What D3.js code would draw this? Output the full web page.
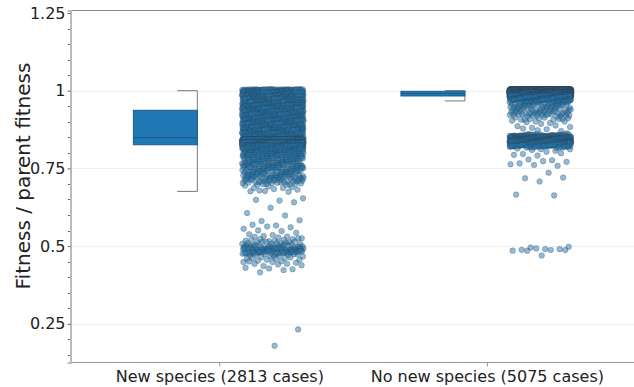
<!DOCTYPE html>
<html>
<head>
<meta charset="utf-8">
<script src="https://cdn.jsdelivr.net/npm/d3@7"></script>
<style>
  body { margin: 0; background: #fff; }
  text { font-family: "DejaVu Sans", sans-serif; fill: #222; }
</style>
</head>
<body>
<div id="chart"></div>
<script>
// categories and their labels
var categories = ["New species (2813 cases)", "No new species (5075 cases)"];

// box stats: [lowerWhisker, q1, median, q3, upperWhisker]
var boxStats = [
    [0.676, 0.826, 0.849, 0.937, 1.0],
    [0.967, 0.983, 0.991, 0.998, 1.0]
];

// binned points: [value, count]
var newSpecies = [
    [1.00, 130], [0.99, 110], [0.98, 100], [0.97, 90], [0.96, 90], [0.95, 85], [0.94, 80],
    [0.93, 80], [0.92, 80], [0.91, 80], [0.90, 80], [0.89, 80], [0.88, 80], [0.87, 80],
    [0.86, 80], [0.85, 65], [0.84, 350], [0.83, 350], [0.82, 160],
    [0.81, 55], [0.80, 50], [0.79, 40], [0.78, 35], [0.77, 30], [0.76, 30], [0.75, 30],
    [0.74, 25], [0.73, 25], [0.72, 25], [0.71, 20], [0.70, 12],
    [0.69, 5], [0.68, 4], [0.676, 2], [0.65, 3], [0.64, 1], [0.62, 1], [0.61, 1], [0.60, 1],
    [0.58, 2], [0.57, 2], [0.56, 3], [0.55, 2], [0.54, 3], [0.53, 5], [0.52, 8], [0.51, 12],
    [0.50, 20], [0.49, 40], [0.48, 35], [0.47, 10], [0.46, 8], [0.45, 6], [0.44, 5],
    [0.43, 3], [0.42, 2], [0.234, 1], [0.179, 1]
];

var noNewSpecies = [
    [1.00, 1296], [0.995, 1292], [0.99, 800], [0.985, 450], [0.98, 250],
    [0.975, 40], [0.97, 30], [0.965, 20], [0.96, 20], [0.95, 20], [0.94, 20], [0.93, 18],
    [0.92, 15], [0.91, 10], [0.90, 5], [0.89, 3], [0.88, 4], [0.87, 2], [0.86, 5],
    [0.855, 40], [0.85, 80], [0.845, 120], [0.84, 150], [0.835, 150], [0.83, 120],
    [0.825, 60], [0.82, 20],
    [0.81, 5], [0.80, 3], [0.79, 2], [0.78, 2], [0.77, 3], [0.76, 3], [0.74, 1], [0.72, 2],
    [0.705, 1], [0.67, 1], [0.665, 1], [0.495, 3], [0.49, 5], [0.485, 2], [0.465, 1]
];

var yTicks = [0.25, 0.5, 0.75, 1, 1.25];
var yTickLabels = ["0.25", "0.5", "0.75", "1", "1.25"];

var W = 634, H = 387;
var mLeft = 70.5, mRight = 634, mTop = 10.5, mBottom = 362.5;

var svg = d3.select("#chart").append("svg")
    .attr("width", W)
    .attr("height", H);

var x = d3.scaleLinear()
    .domain([-0.556, 1.55])
    .range([mLeft, mRight]);

var y = d3.scaleLinear()
    .domain([0.1255, 1.258])
    .range([mBottom, mTop]);

// grid
svg.append("g")
    .selectAll("line")
    .data(yTicks.slice(0, 4))
    .enter()
    .append("line")
    .attr("x1", mLeft)
    .attr("x2", mRight)
    .attr("y1", function(d) { return Math.round(y(d)) + 0.5; })
    .attr("y2", function(d) { return Math.round(y(d)) + 0.5; })
    .attr("stroke", "#f0f0f0");

// frame lines
svg.append("line")
    .attr("x1", mLeft).attr("x2", mRight)
    .attr("y1", mTop).attr("y2", mTop)
    .attr("stroke", "#888");
svg.append("line")
    .attr("x1", mLeft).attr("x2", mRight)
    .attr("y1", mBottom).attr("y2", mBottom)
    .attr("stroke", "#999");

// y axis with minor ticks
var minor = d3.range(0.15, 1.26, 0.05).filter(function(v) {
    return Math.abs(v * 4 - Math.round(v * 4)) > 0.01;
});
svg.append("g")
    .selectAll("line")
    .data(minor)
    .enter()
    .append("line")
    .attr("x1", mLeft - 2.5).attr("x2", mLeft)
    .attr("y1", function(d) { return Math.round(y(d)) + 0.5; })
    .attr("y2", function(d) { return Math.round(y(d)) + 0.5; })
    .attr("stroke", "#666");

var yAxis = d3.axisLeft(y)
    .tickValues(yTicks)
    .tickFormat(function(d, i) { return yTickLabels[i]; })
    .tickSize(3)
    .tickPadding(2);

var yAxisGroup = svg.append("g")
    .attr("class", "y-axis")
    .attr("transform", "translate(" + mLeft + ",0)")
    .call(yAxis);
yAxisGroup.select(".domain").attr("stroke", "#bbb").attr("stroke-width", 2);
yAxisGroup.selectAll(".tick line").attr("stroke", "#666");
yAxisGroup.selectAll(".tick text")
    .attr("font-size", 16)
    .attr("fill", "#222")
    .style("font-family", "DejaVu Sans");

// x axis (category labels)
var xAxis = d3.axisBottom(x)
    .tickValues([0, 1])
    .tickFormat(function(d) { return categories[d]; })
    .tickSize(4)
    .tickPadding(4);

var xAxisGroup = svg.append("g")
    .attr("class", "x-axis")
    .attr("transform", "translate(0," + mBottom + ")")
    .call(xAxis);
xAxisGroup.select(".domain").remove();
xAxisGroup.selectAll(".tick line").attr("stroke", "#999");
xAxisGroup.selectAll(".tick text")
    .attr("font-size", 16)
    .attr("fill", "#222")
    .style("font-family", "DejaVu Sans");

svg.append("text")
    .attr("transform", "translate(30," + 176 + ") rotate(-90)")
    .attr("text-anchor", "middle")
    .attr("font-size", 20)
    .text("Fitness / parent fitness");

// boxes
var boxL = -0.321, boxR = -0.082, capL = -0.157;
boxStats.forEach(function(s, i) {
    var g = svg.append("g");
    g.append("line")
        .attr("x1", x(i + boxR)).attr("x2", x(i + boxR))
        .attr("y1", y(s[4])).attr("y2", y(s[0]))
        .attr("stroke", "#777");
    [s[0], s[4]].forEach(function(v) {
        g.append("line")
            .attr("x1", x(i + capL)).attr("x2", x(i + boxR))
            .attr("y1", y(v)).attr("y2", y(v))
            .attr("stroke", "#777");
    });
    g.append("rect")
        .attr("x", x(i + boxL))
        .attr("y", y(s[3]))
        .attr("width", x(i + boxR) - x(i + boxL))
        .attr("height", y(s[1]) - y(s[3]))
        .attr("fill", "#1f77b4")
        .attr("stroke", "#1d5b88")
        .attr("stroke-width", 1);
    g.append("line")
        .attr("x1", x(i + boxL)).attr("x2", x(i + boxR))
        .attr("y1", y(s[2])).attr("y2", y(s[2]))
        .attr("stroke", "#1d5b88")
        .attr("stroke-width", 1.2);
});

// jittered points (jitter is a fixed low-discrepancy sequence, positional only)
var ptCenter = 0.2, ptHalf = 0.115;
[newSpecies, noNewSpecies].forEach(function(bins, i) {
    var pts = [];
    var k = 0;
    bins.forEach(function(b) {
        for (var j = 0; j < b[1]; j++) {
            k++;
            pts.push({ v: b[0], jx: (k * 0.6180339887) % 1, jy: (k * 0.7548776662) % 1 });
        }
    });
    svg.append("g")
        .selectAll("circle")
        .data(pts)
        .enter()
        .append("circle")
        .attr("cx", function(d) { return x(i + ptCenter + (d.jx * 2 - 1) * ptHalf); })
        .attr("cy", function(d) { return y(d.v) + (d.jy * 2 - 1) * 1.5; })
        .attr("r", 2.8)
        .attr("fill", "#1f77b4")
        .attr("fill-opacity", 0.5)
        .attr("stroke", "#333")
        .attr("stroke-opacity", 0.45)
        .attr("stroke-width", 0.6);
});
</script>
</body>
</html>
